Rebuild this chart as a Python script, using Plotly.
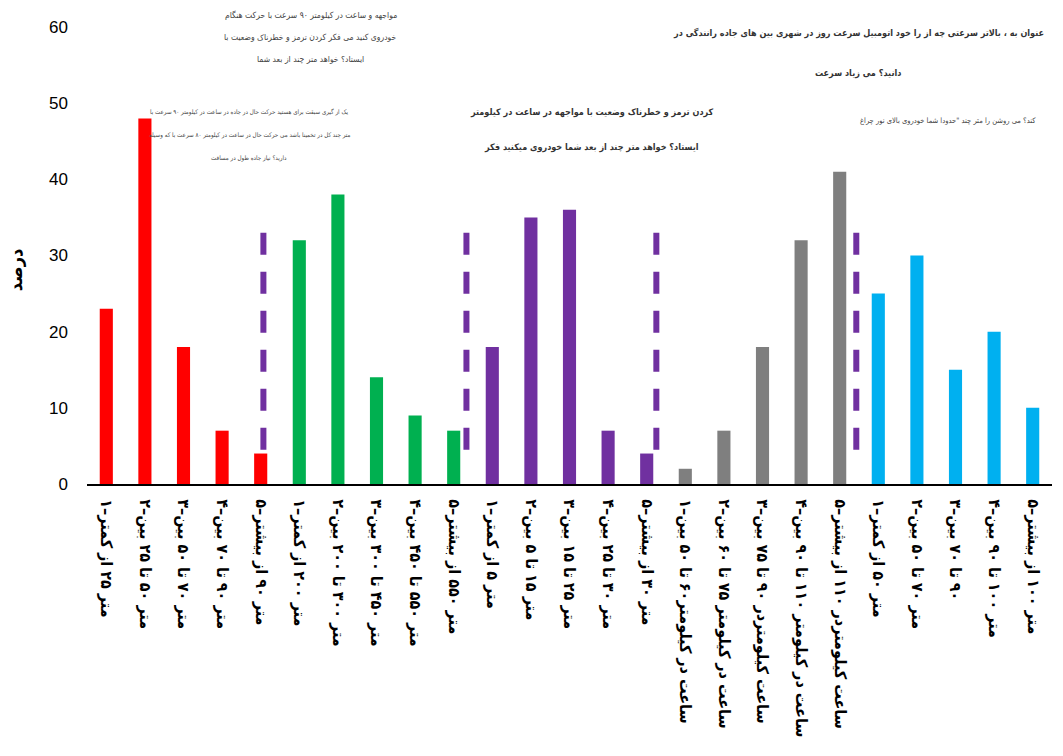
import plotly.graph_objects as go

# Survey answers (percent) for five driving questions, five options each
labels_brake_90 = ["۱–کمتر از ۲۵ متر", "۲–بین ۲۵ تا ۵۰ متر", "۳–بین ۵۰ تا ۷۰ متر",
                   "۴–بین ۷۰ تا ۹۰ متر", "۵–بیشتر از ۹۰ متر"]
values_brake_90 = [23, 48, 18, 7, 4]

labels_overtake = ["۱–کمتر از ۲۰۰ متر", "۲–بین ۲۰۰ تا ۳۰۰ متر", "۳–بین ۳۰۰ تا ۴۵۰ متر",
                   "۴–بین ۴۵۰ تا ۵۵۰ متر", "۵–بیشتر از ۵۵۰ متر"]
values_overtake = [32, 38, 14, 9, 7]

labels_brake_low = ["۱–کمتر از ۵ متر", "۲–بین ۵ تا ۱۵ متر", "۳–بین ۱۵ تا ۲۵ متر",
                    "۴–بین ۲۵ تا ۳۰ متر", "۵–بیشتر از ۳۰ متر"]
values_brake_low = [18, 35, 36, 7, 4]

labels_speed = ["۱–بین ۵۰ تا ۶۰کیلومتر در ساعت", "۲–بین ۶۰ تا ۷۵ کیلومتر در ساعت",
                "۳–بین ۷۵ تا ۹۰ کیلومتردر ساعت", "۴–بین ۹۰ تا ۱۱۰ کیلومتر در ساعت",
                "۵–بیشتر از ۱۱۰ کیلومتردر ساعت"]
values_speed = [2, 7, 18, 32, 41]

labels_headlight = ["۱–کمتر از ۵۰ متر", "۲–بین ۵۰ تا ۷۰ متر", "۳–بین ۷۰ تا ۹۰",
                    "۴–بین ۹۰ تا ۱۰۰ متر", "۵–بیشتر از ۱۰۰ متر"]
values_headlight = [25, 30, 15, 20, 10]

groups = [
    (labels_brake_90, values_brake_90, "#FF0000"),
    (labels_overtake, values_overtake, "#00B050"),
    (labels_brake_low, values_brake_low, "#7030A0"),
    (labels_speed, values_speed, "#7F7F7F"),
    (labels_headlight, values_headlight, "#00B0F0"),
]

y_title = "درصد"

AR_FONT = "DejaVu Sans Condensed, DejaVu Sans"
LRM = "\u200e"


def word_ltr(s):
    """Lay the words of a Persian phrase out left to right (each word still shaped RTL)."""
    s = s.replace("–", "–" + LRM)
    return (LRM + " ").join(s.split(" "))


all_labels = [lab for g in groups for lab in g[0]]

fig = go.Figure()
for labs, vals, color in groups:
    fig.add_trace(go.Bar(x=labs, y=vals, marker=dict(color=color, line=dict(width=0)),
                         showlegend=False))

# dashed separators between question groups (category-index positions)
separator_x = [4.07, 9.33, 14.25, 19.43]
for sx in separator_x:
    fig.add_shape(type="line", xref="x", yref="y", x0=sx, x1=sx, y0=4.5, y1=33.3,
                  line=dict(color="#7030A0", width=6, dash="22px,17px"), layer="above")


# question texts
def add_block(lines, x, y_top, step, size, color, bold=False):
    for i, line in enumerate(lines):
        txt = word_ltr(line)
        txt = f"<b>{txt}</b>" if bold else txt
        fig.add_annotation(text=txt, xref="paper", yref="paper", x=x, y=y_top - i * step,
                           showarrow=False, xanchor="center", yanchor="middle",
                           font=dict(family=AR_FONT, size=size, color=color))


add_block(["هنگام حرکت با سرعت ۹۰ کیلومتر در ساعت و مواجهه",
           "با وضعیت خطرناک و ترمز کردن فکر می کنید خودروی",
           "شما بعد از چند متر خواهد ایستاد؟"],
          x=0.232, y_top=1.026, step=0.048, size=8.5, color="#444444")

add_block(["با سرعت ۹۰ کیلومتر در ساعت در جاده در حال حرکت هستید برای سبقت گیری از یک",
           "وسیله که با سرعت ۸۰ کیلومتر در ساعت در حال حرکت می باشد تخمینا در کل چند متر",
           "مسافت در طول جاده نیاز دارید؟"],
          x=0.168, y_top=0.813, step=0.050, size=6.2, color="#444444")

add_block(["کیلومتر در ساعت در مواجهه با وضعیت خطرناک و ترمز کردن",
           "فکر میکنید خودروی شما بعد از چند متر خواهد ایستاد؟"],
          x=0.523, y_top=0.814, step=0.077, size=9, color="#333333", bold=True)

add_block(["در رانندگی جاده های بین شهری در روز سرعت اتومبیل خود را از چه سرعتی بالاتر ، به عنوان",
           "سرعت زیاد می دانید؟"],
          x=0.799, y_top=0.987, step=0.088, size=9, color="#333333", bold=True)

add_block(["چراغ نور بالای خودروی شما حدودا\" چند متر را روشن می کند؟"],
          x=0.892, y_top=0.796, step=0.05, size=7.5, color="#444444")

# vertical axis title
fig.add_annotation(text=f"<b>{y_title}</b>", xref="paper", yref="paper", x=-0.0745, y=0.468,
                   textangle=-90, showarrow=False, xanchor="center", yanchor="middle",
                   font=dict(family=AR_FONT, size=18, color="black"))

fig.update_layout(
    width=1063, height=756,
    margin=dict(l=87, r=11, t=27, b=272, autoexpand=False),
    paper_bgcolor="white", plot_bgcolor="white",
    barmode="relative", bargap=0.66,
    font=dict(family="Liberation Sans, Arial", color="black"),
)
fig.update_xaxes(
    type="category", categoryorder="array", categoryarray=all_labels,
    tickmode="array", tickvals=all_labels, ticktext=[word_ltr(l) for l in all_labels],
    tickangle=90, tickfont=dict(family=AR_FONT, size=16, color="black", weight="bold"),
    showline=True, linecolor="black", linewidth=2, ticks="", showgrid=False,
    ticklabelstandoff=10,
)
fig.update_yaxes(
    range=[0, 60], dtick=10, showgrid=False, zeroline=False, showline=False,
    tickfont=dict(size=17, color="black"), ticklabelstandoff=18,
)

fig.write_html("out.html")
